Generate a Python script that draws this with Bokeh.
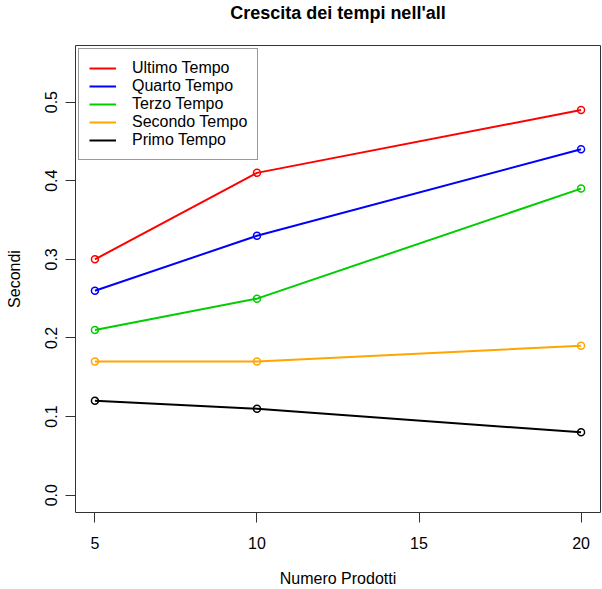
from bokeh.plotting import figure
from bokeh.models import (Range1d, FixedTicker, PrintfTickFormatter, Legend, LegendItem,
                          Title)
from bokeh.embed import file_html
from bokeh.resources import INLINE

# dati
prodotti = [5, 10, 20]
ultimo = [0.30, 0.41, 0.49]
quarto = [0.26, 0.33, 0.44]
terzo = [0.21, 0.25, 0.39]
secondo = [0.17, 0.17, 0.19]
primo = [0.12, 0.11, 0.08]

serie = [("Ultimo Tempo", ultimo, "#FF0000"),
         ("Quarto Tempo", quarto, "#0000FF"),
         ("Terzo Tempo", terzo, "#00CD00"),
         ("Secondo Tempo", secondo, "#FFA500"),
         ("Primo Tempo", primo, "#000000")]

x_ticks = [5, 10, 15, 20]
y_ticks = [0.0, 0.1, 0.2, 0.3, 0.4, 0.5]
ylim = (0.0, 0.55)
titolo = "Crescita dei tempi nell'all"

FONT = "Liberation Sans"
DARK = "#333333"

# limiti stile R (estensione 4%)
xpad = (max(prodotti) - min(prodotti)) * 0.04
ypad = (ylim[1] - ylim[0]) * 0.04

p = figure(width=602, height=589, output_backend="svg", toolbar_location=None,
           x_range=Range1d(min(prodotti) - xpad, max(prodotti) + xpad),
           y_range=Range1d(ylim[0] - ypad, ylim[1] + ypad),
           min_border_left=75, min_border_right=2, min_border_top=45,
           min_border_bottom=76, title=None)
p.outline_line_color = DARK
p.outline_line_width = 1
p.grid.visible = False
p.background_fill_color = "white"
p.border_fill_color = "white"

# spazio tra titolo e riquadro, poi il titolo
p.add_layout(Title(text=" ", text_font_size="1px", standoff=20), "above")
p.add_layout(Title(text=titolo, align="center", text_font=FONT, text_font_size="18px",
                   text_font_style="bold", text_color="black", standoff=0), "above")

for ax in (p.xaxis[0], p.yaxis[0]):
    ax.axis_line_color = DARK
    ax.major_tick_line_color = DARK
    ax.major_tick_out = 10
    ax.major_tick_in = 0
    ax.minor_tick_line_color = None
    ax.major_label_text_font = FONT
    ax.major_label_text_font_size = "16px"
    ax.major_label_text_color = "black"
    ax.axis_label_text_font = FONT
    ax.axis_label_text_font_size = "16px"
    ax.axis_label_text_font_style = "normal"
    ax.axis_label_text_color = "black"

p.xaxis.ticker = FixedTicker(ticks=x_ticks)
p.xaxis.bounds = (x_ticks[0], x_ticks[-1])
p.xaxis.axis_label = "Numero Prodotti"
p.xaxis.major_label_standoff = 14
p.xaxis.axis_label_standoff = 18

p.yaxis.ticker = FixedTicker(ticks=y_ticks)
p.yaxis.bounds = (y_ticks[0], y_ticks[-1])
p.yaxis.formatter = PrintfTickFormatter(format="%.1f")
p.yaxis.major_label_orientation = "vertical"
p.yaxis.axis_label = "Secondi"
p.yaxis.major_label_standoff = 8
p.yaxis.axis_label_standoff = 20

items = []
for nome, vals, col in serie:
    r = p.line(prodotti, vals, line_color=col, line_width=2)
    p.scatter(prodotti, vals, marker="circle", size=7, fill_alpha=0,
              line_color=col, line_width=1.5)
    items.append(LegendItem(label=nome, renderers=[r]))

legend = Legend(items=items, location="top_left")
legend.border_line_color = DARK
legend.border_line_width = 1
legend.background_fill_color = "white"
legend.background_fill_alpha = 1
legend.padding = 10
legend.margin = 3
legend.spacing = 0
legend.label_height = 18
legend.glyph_height = 18
legend.glyph_width = 27
legend.label_standoff = 16
legend.label_text_font = FONT
legend.label_text_font_size = "16px"
legend.label_text_color = "black"
p.add_layout(legend)

open("out.html", "w").write(file_html(p, INLINE))
